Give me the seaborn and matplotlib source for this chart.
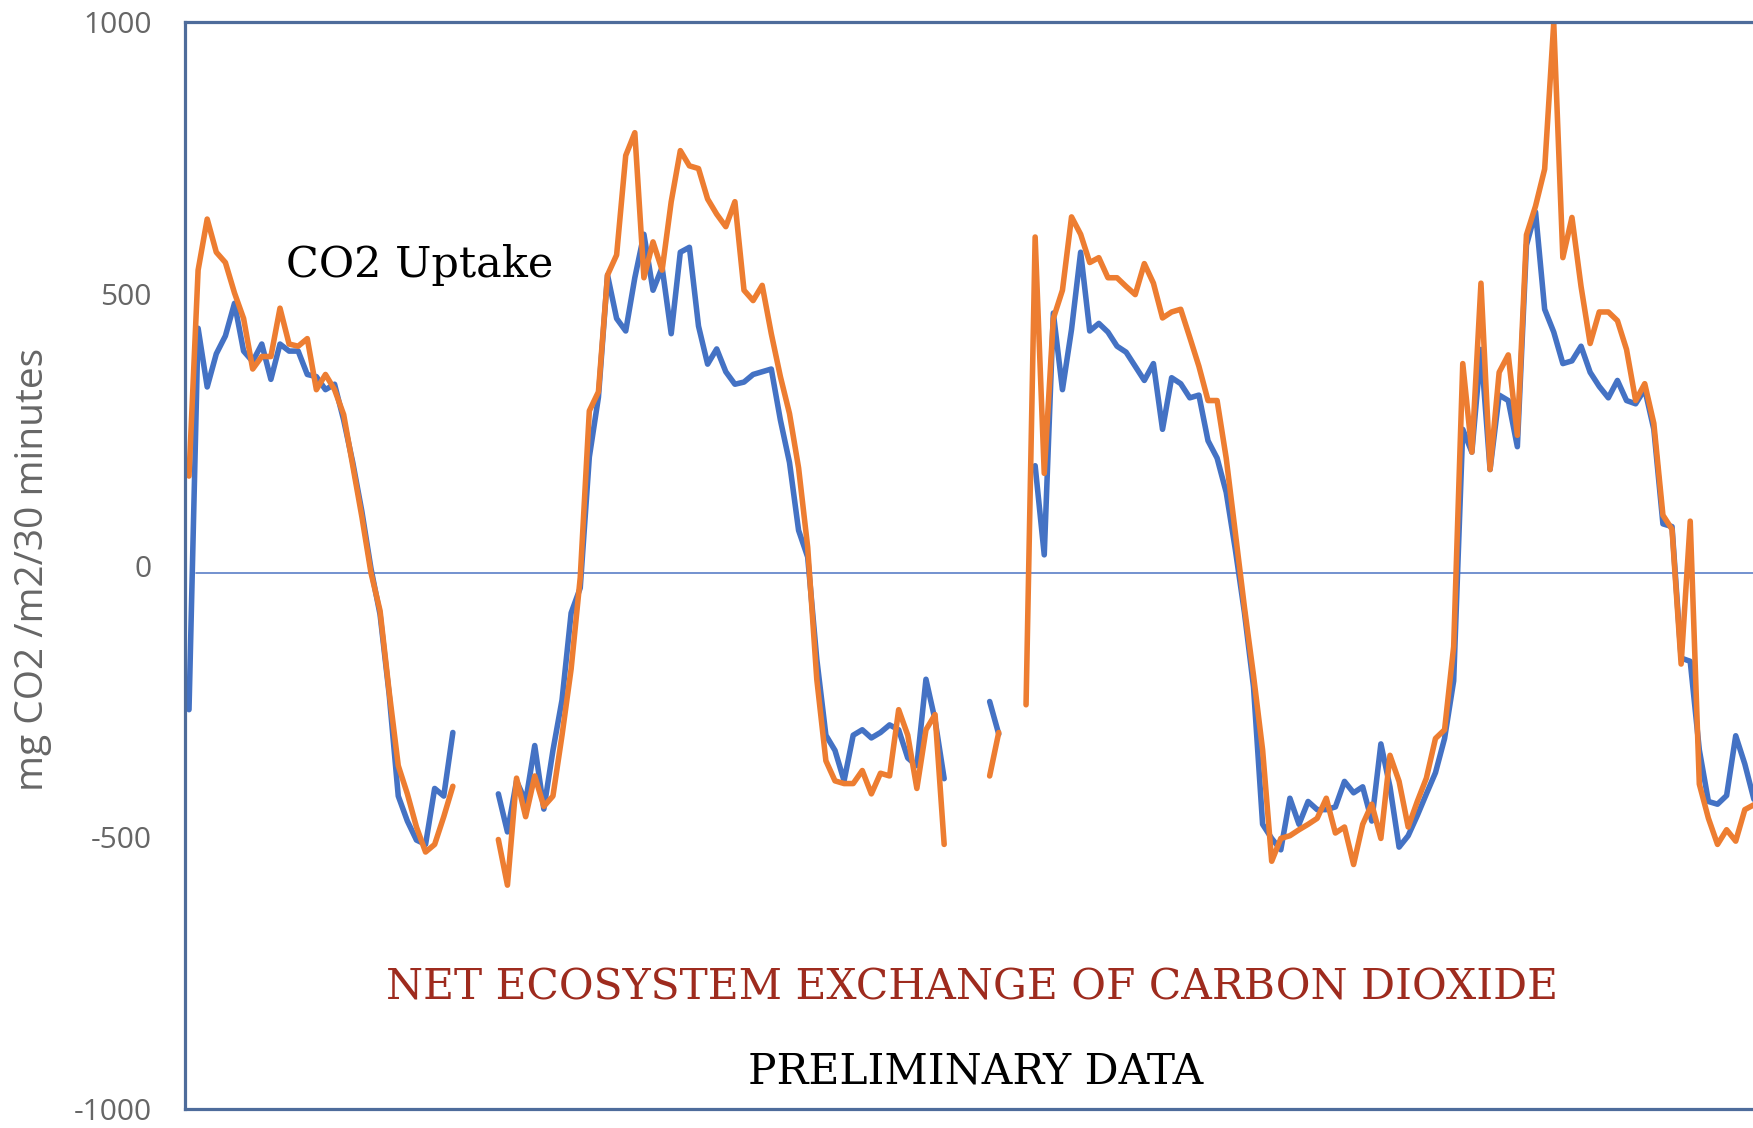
import numpy as np
import pandas as pd
import matplotlib
matplotlib.use("Agg")
import matplotlib.pyplot as plt
import seaborn as sns

# Half-hourly net ecosystem exchange, mg CO2 /m2/30 minutes.
# None marks the half hours the logger dropped out.
tower_blue = [
    -265, 437, 329, 390, 423, 483, 395, 376, 408, 343,
    408, 395, 395, 352, 348, 324, 334, 268, 190, 100,
    -5, -90, -237, -424, -470, -505, -513, -410, -424, -307,
    None, None, None, None,
    -420, -490, -396, -434, -331, -448, -340, -247, -87, -41,
    200, 310, 535, 455, 432, 530, 610, 507, 549, 427,
    577, 586, 441, 371, 399, 357, 334, 338, 352, 357,
    362, 268, 190, 65, 16, -172, -312, -340, -396, -312,
    -302, -317, -307, -293, -302, -354, -368, -209, -284, -392,
    None, None, None, None,
    -250, -310,
    None, None, None,
    184, 20, 465, 324, 435, 577, 432, 446, 430, 404,
    393, 367, 341, 372, 251, 346, 335, 309, 314, 230,
    198, 135, 30, -86, -223, -476, -502, -523, -428, -476,
    -434, -449, -449, -444, -397, -418, -407, -470, -328, -407,
    -518, -497, -460, -420, -381, -318, -212, 251, 209, 398,
    177, 314, 304, 219, 590, 651, 472, 430, 372, 377,
    404, 356, 330, 309, 341, 304, 298, 325, 251, 77,
    72, -170, -176, -339, -434, -439, -423, -313, -365, -430,
]

tower_orange = [
    165, 544, 638, 577, 558, 502, 455, 362, 385, 385,
    474, 408, 404, 418, 324, 352, 324, 278, 184, 90,
    -13, -83, -232, -368, -420, -481, -527, -513, -462, -406,
    None, None, None, None,
    -504, -588, -391, -462, -387, -443, -424, -312, -190, -22,
    285, 320, 535, 572, 755, 797, 530, 596, 544, 670,
    764, 736, 731, 675, 647, 624, 670, 507, 488, 516,
    427, 348, 280, 180, 34, -209, -359, -396, -401, -401,
    -377, -420, -382, -387, -265, -312, -410, -302, -274, -513,
    None, None, None, None,
    -387, -307,
    None, None,
    -256, 605, 170, 455, 507, 642, 610, 558, 567, 530,
    530, 514, 499, 556, 520, 456, 467, 472, 420, 367,
    304, 304, 198, 61, -76, -202, -339, -544, -502, -497,
    -486, -476, -465, -428, -492, -481, -550, -476, -439, -502,
    -349, -397, -481, -434, -391, -318, -302, -149, 372, 209,
    520, 177, 356, 388, 240, 609, 662, 730, 999, 567,
    641, 514, 409, 467, 467, 451, 398, 304, 335, 262,
    93, 67, -181, 82, -402, -465, -513, -486, -507, -449,
    -440,
]

y_ticks = [-1000, -500, 0, 500, 1000]
y_tick_labels = ["-1000", "-500", "0", "500", "1000"]

colors = {"blue": "#4472C4", "orange": "#ED7D31"}


def to_long(values, name):
    v = pd.Series(values, dtype=float)
    seg = v.isna().cumsum()
    df = pd.DataFrame({"step": np.arange(len(v)), "nee": v, "series": name})
    df["unit"] = name + "_" + seg.astype(str)
    return df.dropna()


data = pd.concat([to_long(tower_blue, "blue"), to_long(tower_orange, "orange")],
                 ignore_index=True)

sns.set_style("white")
plt.rcParams["font.family"] = ["Open Sans", "DejaVu Sans"]
plt.rcParams["axes.unicode_minus"] = False

W, H = 1753, 1128
fig = plt.figure(figsize=(W / 100, H / 100), dpi=100)
ax = fig.add_axes([185 / W, 1 - 1109 / H, 1 - 185 / W, (1109 - 22.4) / H])

sns.lineplot(data=data, x="step", y="nee", hue="series", units="unit",
             estimator=None, palette=colors, hue_order=["blue", "orange"],
             linewidth=4.0, legend=False, ax=ax, sort=False,
             solid_joinstyle="round", solid_capstyle="round")

# x axis line sits a hair below the 0 label in the original
ax.axhline(-14, xmin=0.007, color="#5B7FC7", lw=1.2, zorder=1)

ax.set_xlim(-0.44, 171.9)
ax.set_ylim(-1000, 1000)
ax.set_xticks([])
ax.set_yticks(y_ticks)
ax.set_yticklabels(y_tick_labels)
ax.tick_params(axis="y", length=0, pad=24, labelsize=21.5, labelcolor="#666666")
ax.set_xlabel("")
ax.set_ylabel("")

for side in ["left", "top", "bottom"]:
    ax.spines[side].set_color("#4E6C9B")
    ax.spines[side].set_linewidth(2.3)
ax.spines["right"].set_visible(False)

fig.text(33 / W, 1 - 569 / H, "mg CO2 /m2/30 minutes", rotation=90,
         ha="center", va="center", fontsize=28, color="#666666")

fig.text(286 / W, 1 - 277 / H, "CO2 Uptake", fontsize=31,
         family="DejaVu Serif", ha="left", va="baseline", color="black")
fig.text(972 / W, 1 - 1000 / H, "NET ECOSYSTEM EXCHANGE OF CARBON DIOXIDE",
         fontsize=30.5, family="DejaVu Serif", ha="center", va="baseline",
         color="#9E2B1E")
fig.text(976 / W, 1 - 1083 / H, "PRELIMINARY DATA", fontsize=30.5,
         family="DejaVu Serif", ha="center", va="baseline", color="black")

fig.savefig("out.png", dpi=100)
